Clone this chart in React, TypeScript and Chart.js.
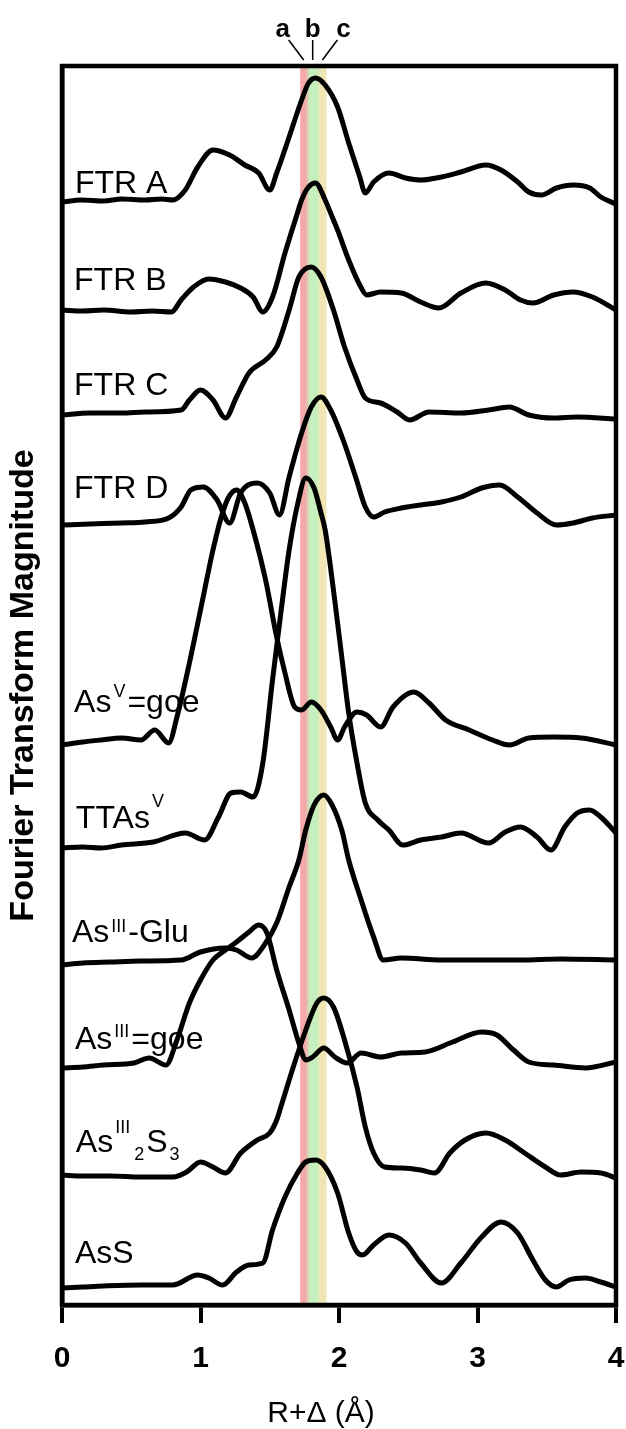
import React, { useEffect, useRef } from "react";
import { Chart, registerables } from "chart.js";

Chart.register(...registerables);

const FONT = '"Liberation Sans", Arial, Helvetica, sans-serif';

// x axis (R+Δ, Å)
const xTicks = [0, 1, 2, 3, 4];
const xMin = 0;
const xMax = 4;
const yMin = 0;
const yMax = 12.39;

// shaded distance regions a, b, c (Å)
const bandEdges = [1.72, 1.77, 1.85, 1.91];
const bandNames = ["a", "b", "c"];
const bandColors = ["#f3a9a9", "#c6efbe", "#f0e6b4"];

// spectra: [R+Δ, stacked FT magnitude]
const ftrA: [number, number][] = [
  [0, 11.03], [0.14, 11.05], [0.3, 11.04], [0.43, 11.06], [0.6, 11.05], [0.72, 11.06], [0.8, 11.05],
  [0.89, 11.15], [0.98, 11.38], [1.09, 11.55], [1.21, 11.5], [1.32, 11.4], [1.42, 11.32], [1.5, 11.15],
  [1.55, 11.32], [1.64, 11.68], [1.73, 12.05], [1.78, 12.22], [1.83, 12.27], [1.9, 12.2], [1.99, 11.98],
  [2.07, 11.62], [2.15, 11.28], [2.19, 11.12], [2.25, 11.23], [2.36, 11.32], [2.48, 11.27], [2.59, 11.25],
  [2.74, 11.28], [2.88, 11.33], [3.06, 11.4], [3.17, 11.35], [3.29, 11.23], [3.37, 11.13], [3.46, 11.1],
  [3.57, 11.17], [3.69, 11.2], [3.81, 11.17], [3.89, 11.08], [4.0, 11.01],
];
const ftrB: [number, number][] = [
  [0, 9.95], [0.15, 9.94], [0.3, 9.95], [0.5, 9.93], [0.65, 9.94], [0.79, 9.93], [0.86, 10.05],
  [0.95, 10.18], [1.06, 10.26], [1.18, 10.23], [1.29, 10.17], [1.38, 10.08], [1.45, 9.93], [1.52, 10.08],
  [1.61, 10.52], [1.7, 10.92], [1.73, 11.05], [1.78, 11.18], [1.83, 11.22], [1.9, 11.05], [1.96, 10.85],
  [1.99, 10.75], [2.07, 10.45], [2.15, 10.2], [2.2, 10.1], [2.3, 10.13], [2.45, 10.12], [2.59, 10.03],
  [2.72, 9.97], [2.88, 10.12], [3.06, 10.22], [3.2, 10.15], [3.31, 10.05], [3.4, 10.02], [3.55, 10.1],
  [3.69, 10.13], [3.83, 10.08], [4.0, 9.95],
];
const ftrC: [number, number][] = [
  [0, 8.9], [0.2, 8.92], [0.43, 8.92], [0.6, 8.93], [0.86, 8.95], [0.92, 9.05], [1.0, 9.15], [1.09, 9.05],
  [1.18, 8.87], [1.26, 9.08], [1.35, 9.32], [1.47, 9.45], [1.55, 9.58], [1.64, 9.95], [1.71, 10.28],
  [1.8, 10.38], [1.87, 10.28], [1.96, 9.95], [2.04, 9.58], [2.13, 9.25], [2.19, 9.07], [2.3, 9.02],
  [2.42, 8.93], [2.51, 8.85], [2.65, 8.93], [2.88, 8.92], [3.08, 8.95], [3.23, 8.98], [3.37, 8.9],
  [3.55, 8.87], [3.72, 8.88], [4.0, 8.86],
];
const ftrD: [number, number][] = [
  [0, 7.8], [0.2, 7.81], [0.43, 7.82], [0.6, 7.83], [0.77, 7.87], [0.86, 7.98], [0.93, 8.15], [1.02, 8.18],
  [1.12, 8.05], [1.21, 7.82], [1.29, 8.12], [1.41, 8.22], [1.5, 8.12], [1.57, 7.9], [1.64, 8.28],
  [1.73, 8.72], [1.8, 8.98], [1.87, 9.08], [1.94, 8.95], [2.03, 8.65], [2.12, 8.28], [2.19, 7.98],
  [2.25, 7.88], [2.33, 7.93], [2.45, 7.97], [2.59, 8.0], [2.74, 8.03], [2.88, 8.08], [3.03, 8.17],
  [3.16, 8.2], [3.29, 8.08], [3.43, 7.92], [3.57, 7.8], [3.69, 7.82], [3.83, 7.87], [4.0, 7.9],
];
const asVgoe: [number, number][] = [
  [0, 5.6], [0.15, 5.63], [0.28, 5.65], [0.43, 5.67], [0.57, 5.65], [0.67, 5.75], [0.77, 5.62],
  [0.83, 5.88], [0.92, 6.42], [1.0, 6.95], [1.09, 7.55], [1.15, 7.88], [1.2, 8.07], [1.26, 8.15],
  [1.32, 8.02], [1.38, 7.75], [1.47, 7.25], [1.55, 6.68], [1.61, 6.32], [1.68, 5.98], [1.73, 5.95],
  [1.8, 6.03], [1.87, 5.95], [1.94, 5.78], [1.99, 5.65], [2.04, 5.78], [2.13, 5.93], [2.2, 5.9],
  [2.3, 5.78], [2.39, 5.98], [2.54, 6.13], [2.65, 6.02], [2.77, 5.85], [2.94, 5.75], [3.11, 5.65],
  [3.23, 5.6], [3.37, 5.67], [3.55, 5.68], [3.75, 5.67], [4.0, 5.6],
];
const ttAsV: [number, number][] = [
  [0, 4.57], [0.15, 4.58], [0.28, 4.57], [0.43, 4.6], [0.66, 4.63], [0.89, 4.72], [1.03, 4.65],
  [1.13, 4.88], [1.22, 5.12], [1.29, 5.13], [1.38, 5.08], [1.45, 5.42], [1.52, 6.25], [1.58, 6.92],
  [1.64, 7.55], [1.7, 8.0], [1.76, 8.27], [1.82, 8.17], [1.87, 7.92], [1.9, 7.75], [1.96, 7.15],
  [2.02, 6.48], [2.07, 5.92], [2.13, 5.42], [2.19, 5.02], [2.28, 4.85], [2.36, 4.75], [2.46, 4.6],
  [2.59, 4.65], [2.74, 4.68], [2.88, 4.72], [3.08, 4.62], [3.2, 4.73], [3.31, 4.78], [3.43, 4.68],
  [3.53, 4.55], [3.63, 4.78], [3.72, 4.92], [3.81, 4.95], [3.89, 4.88], [4.0, 4.72],
];
const asIIIGlu: [number, number][] = [
  [0, 3.4], [0.15, 3.42], [0.35, 3.43], [0.57, 3.44], [0.86, 3.45], [1.0, 3.53], [1.18, 3.57],
  [1.26, 3.55], [1.37, 3.47], [1.47, 3.62], [1.55, 3.82], [1.64, 4.18], [1.71, 4.45], [1.76, 4.75],
  [1.82, 5.0], [1.89, 5.1], [1.95, 5.0], [2.02, 4.75], [2.07, 4.45], [2.16, 4.05], [2.25, 3.68],
  [2.32, 3.45], [2.45, 3.47], [2.74, 3.45], [3.03, 3.45], [3.31, 3.45], [3.6, 3.46], [4.0, 3.45],
];
const asIIIgoe: [number, number][] = [
  [0, 2.37], [0.15, 2.38], [0.3, 2.4], [0.52, 2.42], [0.63, 2.47], [0.75, 2.4], [0.83, 2.65],
  [0.92, 3.02], [1.0, 3.25], [1.09, 3.45], [1.18, 3.55], [1.26, 3.63], [1.35, 3.73], [1.42, 3.8],
  [1.48, 3.72], [1.55, 3.35], [1.64, 2.95], [1.71, 2.62], [1.76, 2.45], [1.81, 2.48], [1.89, 2.57],
  [1.97, 2.48], [2.06, 2.42], [2.16, 2.52], [2.3, 2.48], [2.45, 2.52], [2.62, 2.53], [2.82, 2.63],
  [3.03, 2.73], [3.14, 2.7], [3.26, 2.55], [3.37, 2.43], [3.55, 2.4], [3.78, 2.37], [4.0, 2.43],
];
const asIII2S3: [number, number][] = [
  [0, 1.3], [0.15, 1.29], [0.35, 1.29], [0.57, 1.28], [0.8, 1.28], [0.9, 1.33], [1.0, 1.43], [1.09, 1.38],
  [1.18, 1.32], [1.29, 1.52], [1.41, 1.65], [1.5, 1.72], [1.55, 1.85], [1.58, 1.98], [1.67, 2.38],
  [1.76, 2.75], [1.84, 3.02], [1.89, 3.07], [1.96, 2.98], [2.04, 2.65], [2.13, 2.18], [2.19, 1.78],
  [2.25, 1.52], [2.33, 1.38], [2.45, 1.37], [2.59, 1.35], [2.69, 1.32], [2.8, 1.52], [2.91, 1.65],
  [3.06, 1.72], [3.2, 1.65], [3.34, 1.52], [3.49, 1.38], [3.6, 1.3], [3.75, 1.33], [3.89, 1.32], [4.0, 1.27],
];
const asS: [number, number][] = [
  [0, 0.17], [0.15, 0.18], [0.3, 0.19], [0.57, 0.2], [0.8, 0.2], [0.98, 0.3], [1.06, 0.27], [1.16, 0.2],
  [1.26, 0.33], [1.35, 0.4], [1.45, 0.42], [1.52, 0.75], [1.61, 1.08], [1.7, 1.32], [1.76, 1.43],
  [1.83, 1.45], [1.9, 1.38], [1.99, 1.12], [2.07, 0.72], [2.13, 0.53], [2.17, 0.5], [2.25, 0.6],
  [2.36, 0.7], [2.48, 0.62], [2.59, 0.42], [2.74, 0.22], [2.88, 0.42], [3.03, 0.68], [3.17, 0.83],
  [3.29, 0.72], [3.4, 0.45], [3.49, 0.25], [3.57, 0.18], [3.66, 0.25], [3.78, 0.27], [3.89, 0.23], [4.0, 0.18],
];

const seriesNames = [
  "FTR A", "FTR B", "FTR C", "FTR D", "AsV=goe", "TTAsV", "AsIII-Glu", "AsIII=goe", "AsIII2S3", "AsS",
];
const seriesData = [ftrA, ftrB, ftrC, ftrD, asVgoe, ttAsV, asIIIGlu, asIIIgoe, asIII2S3, asS];

// label text pieces (n = normal, sup = superscript, sub = subscript)
type Seg = { t: string; k: "n" | "sup" | "sub"; dy?: number };
const labelSegs: Seg[][] = [
  [{ t: "FTR A", k: "n" }],
  [{ t: "FTR B", k: "n" }],
  [{ t: "FTR C", k: "n" }],
  [{ t: "FTR D", k: "n" }],
  [{ t: "As", k: "n" }, { t: "V", k: "sup", dy: -15 }, { t: "=goe", k: "n" }],
  [{ t: "TTAs", k: "n" }, { t: "V", k: "sup", dy: -21 }],
  [{ t: "As", k: "n" }, { t: "III", k: "sup", dy: -10 }, { t: "-Glu", k: "n" }],
  [{ t: "As", k: "n" }, { t: "III", k: "sup", dy: -12 }, { t: "=goe", k: "n" }],
  [{ t: "As", k: "n" }, { t: "III", k: "sup", dy: -19 }, { t: "2", k: "sub", dy: 8 }, { t: "S", k: "n" }, { t: "3", k: "sub", dy: 8 }],
  [{ t: "AsS", k: "n" }],
];
// label anchors in data units (left, baseline)
const labelX = [0.094, 0.087, 0.087, 0.087, 0.087, 0.1, 0.072, 0.094, 0.1, 0.094];
const labelY = [11.12, 10.15, 9.1, 8.07, 5.93, 4.77, 3.63, 2.56, 1.53, 0.42];

const xTitle = "R+Δ (Å)";
const yTitle = "Fourier Transform Magnitude";

const overlayPlugin = {
  id: "overlay",
  beforeDatasetsDraw(chart: any) {
    const { ctx, chartArea: a, scales } = chart;
    const x = scales.x;
    const p = bandEdges.map((v) => x.getPixelForValue(v));
    const w = p[3] - p[0];
    const g = ctx.createLinearGradient(p[0], 0, p[3], 0);
    const f1 = (p[1] - p[0]) / w;
    const f2 = (p[2] - p[0]) / w;
    g.addColorStop(0, bandColors[0]);
    g.addColorStop(Math.max(0, f1 - 0.06), bandColors[0]);
    g.addColorStop(Math.min(1, f1 + 0.1), bandColors[1]);
    g.addColorStop(Math.max(0, f2 - 0.06), bandColors[1]);
    g.addColorStop(Math.min(1, f2 + 0.08), bandColors[2]);
    g.addColorStop(1, bandColors[2]);
    ctx.save();
    ctx.fillStyle = g;
    ctx.fillRect(p[0], a.top, w, a.bottom - a.top);
    ctx.restore();
  },
  afterDraw(chart: any) {
    const { ctx, chartArea: a, scales } = chart;
    const x = scales.x;
    const y = scales.y;
    ctx.save();
    // frame
    ctx.strokeStyle = "#000";
    ctx.lineWidth = 4.5;
    ctx.strokeRect(a.left, a.top, a.right - a.left, a.bottom - a.top);

    // series labels
    ctx.fillStyle = "#000";
    ctx.textBaseline = "alphabetic";
    ctx.textAlign = "left";
    labelSegs.forEach((segs, i) => {
      let px = x.getPixelForValue(labelX[i]);
      const py = y.getPixelForValue(labelY[i]);
      segs.forEach((s) => {
        const size = s.k === "n" ? 32 : 18;
        ctx.font = `${size}px ${FONT}`;
        if (s.k !== "n") px += 2;
        ctx.fillText(s.t, px, py + (s.dy || 0));
        px += ctx.measureText(s.t).width;
        if (s.k !== "n") px += 2;
      });
    });

    // a b c markers
    ctx.lineWidth = 1.5;
    ctx.font = `bold 26px ${FONT}`;
    ctx.textAlign = "center";
    bandNames.forEach((n, i) => {
      const cx = x.getPixelForValue((bandEdges[i] + bandEdges[i + 1]) / 2);
      const dir = i - 1;
      ctx.beginPath();
      ctx.moveTo(cx, a.top - 6);
      ctx.lineTo(cx + dir * 15, a.top - 26);
      ctx.stroke();
      ctx.fillText(n, cx + dir * 21, a.top - 29);
    });

    // x axis title
    ctx.font = `30px ${FONT}`;
    ctx.textAlign = "center";
    ctx.fillText(xTitle, (a.left + a.right) / 2 - 18, a.bottom + 117);
    ctx.restore();
  },
};

export default function App() {
  const ref = useRef<HTMLCanvasElement | null>(null);
  useEffect(() => {
    if (!ref.current) return;
    const chart = new Chart(ref.current, {
      type: "line",
      data: {
        datasets: seriesData.map((d, i) => ({
          label: seriesNames[i],
          data: d.map(([xv, yv]) => ({ x: xv, y: yv })),
          borderColor: "#000",
          borderWidth: 5,
          pointRadius: 0,
          fill: false,
          cubicInterpolationMode: "monotone" as const,
          borderCapStyle: "round" as const,
          borderJoinStyle: "round" as const,
        })),
      },
      options: {
        responsive: false,
        animation: false,
        devicePixelRatio: 1,
        layout: { padding: { top: 66, right: 10, left: 0, bottom: 0 } },
        plugins: { legend: { display: false }, tooltip: { enabled: false }, title: { display: false } },
        scales: {
          x: {
            type: "linear",
            min: xMin,
            max: xMax,
            afterFit: (s: any) => {
              s.height = 124;
              s.paddingLeft = 0;
              s.paddingRight = 10;
            },
            afterBuildTicks: (s: any) => {
              s.ticks = xTicks.map((v) => ({ value: v }));
            },
            ticks: {
              color: "#000",
              font: { family: FONT, size: 30, weight: "bold" },
              padding: 18,
              maxRotation: 0,
              autoSkip: false,
            },
            grid: { display: true, drawOnChartArea: false, drawTicks: true, tickLength: 18, lineWidth: 4, color: "#000" },
            border: { display: true, width: 4.5, color: "#000" },
            title: { display: false, text: xTitle },
          },
          y: {
            type: "linear",
            min: yMin,
            max: yMax,
            afterFit: (s: any) => {
              s.width = 62;
              s.paddingTop = 0;
              s.paddingBottom = 0;
            },
            ticks: { display: false },
            grid: { display: false },
            border: { display: true, width: 4.5, color: "#000" },
            title: {
              display: true,
              text: yTitle,
              color: "#000",
              font: { family: FONT, size: 34, weight: "bold" },
              padding: { top: 3, bottom: 0 },
            },
          },
        },
      },
      plugins: [overlayPlugin],
    });
    return () => chart.destroy();
  }, []);
  return (
    <div style={{ position: "absolute", left: 0, top: 0, width: 626, height: 1429, background: "#fff" }}>
      <canvas ref={ref} width={626} height={1429} />
    </div>
  );
}
